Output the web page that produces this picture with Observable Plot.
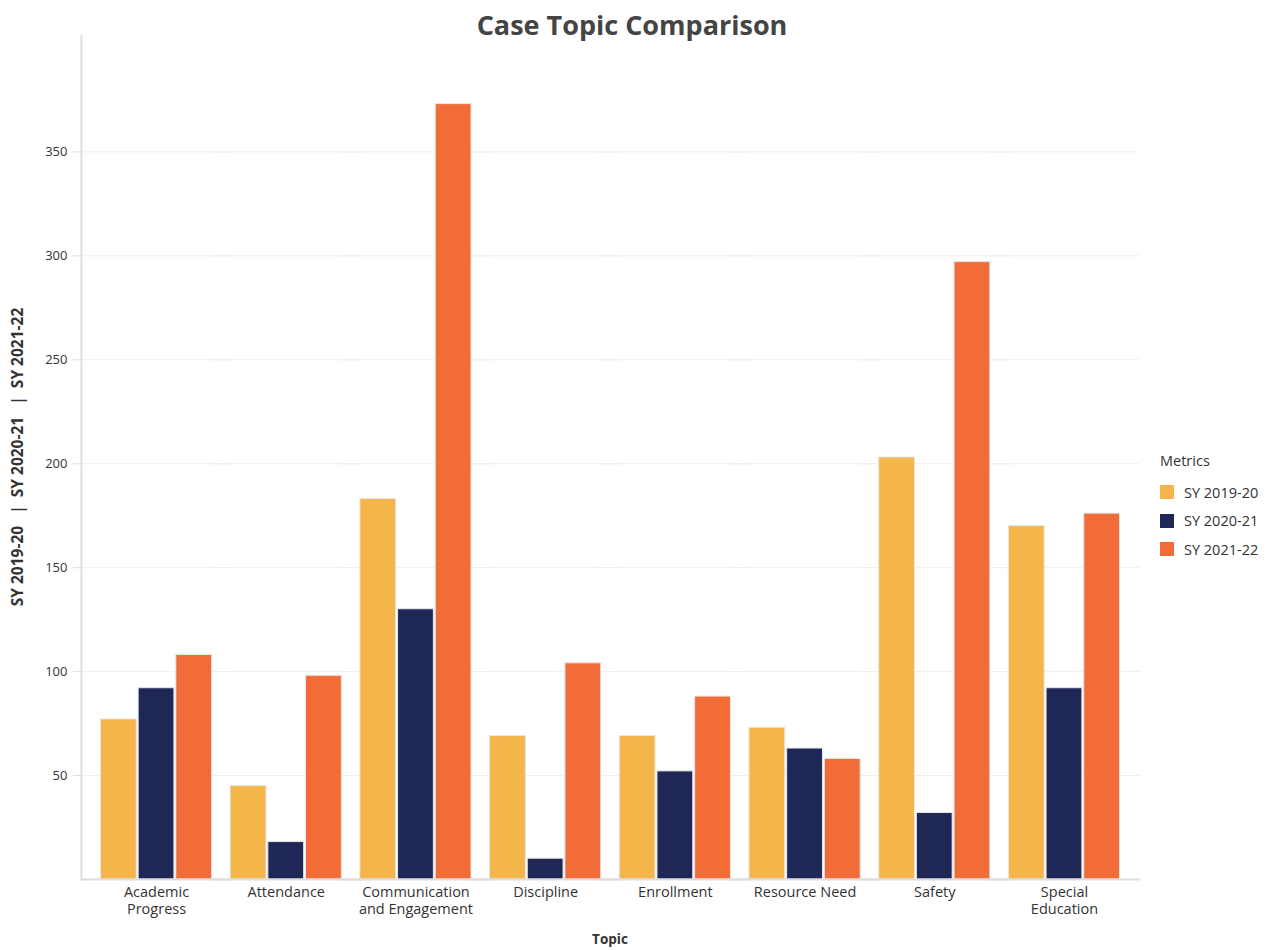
<!DOCTYPE html>
<html>
<head>
<meta charset="utf-8">
<script src="https://cdn.jsdelivr.net/npm/d3@7"></script>
<script src="https://cdn.jsdelivr.net/npm/@observablehq/plot@0.6"></script>
<style>
  html, body { margin: 0; padding: 0; background: #fff; }
  #wrap { position: relative; width: 1271px; height: 950px; font-family: "Open Sans", sans-serif; color: #333; }
  #title { position: absolute; top: 6px; left: 0; width: 1264px; text-align: center; font-size: 27px; font-weight: bold; color: #444; }
  #legend { position: absolute; left: 1160px; top: 450px; font-size: 14.5px; color: #333; }
  #legend .hd { height: 22px; line-height: 22px; margin-bottom: 6px; }
  #legend .it { display: flex; align-items: center; height: 28.5px; }
  #legend .sw { width: 14px; height: 14px; margin-right: 10px; }
  .axlabel { position: absolute; font-weight: bold; color: #333; white-space: pre; line-height: 1; }
  #ylabel { left: 18px; top: 457px; font-size: 15.5px; transform: translate(-50%, -50%) rotate(-90deg); }
  #xlabel { left: 610px; top: 940px; font-size: 13.5px; transform: translate(-50%, -50%); }
  g[aria-label="fx-axis tick label"] text { font-size: 14.5px; }
</style>
</head>
<body>
<div id="wrap">
  <div id="chart"></div>
  <div id="title"></div>
  <div id="ylabel" class="axlabel"></div>
  <div id="xlabel" class="axlabel"></div>
  <div id="legend"></div>
</div>
<script>
const title = "Case Topic Comparison";
const xTitle = "Topic";
const yLabel = "SY 2019-20   |  SY 2020-21   |  SY 2021-22";
const legendTitle = "Metrics";
const topics = ["Academic Progress", "Attendance", "Communication and Engagement", "Discipline", "Enrollment", "Resource Need", "Safety", "Special Education"];
const topicLabels = ["Academic\nProgress", "Attendance", "Communication\nand Engagement", "Discipline", "Enrollment", "Resource Need", "Safety", "Special\nEducation"];
const metrics = ["SY 2019-20", "SY 2020-21", "SY 2021-22"];
const sy201920 = [77, 45, 183, 69, 69, 73, 203, 170];
const sy202021 = [92, 18, 130, 10, 52, 63, 32, 92];
const sy202122 = [108, 98, 373, 104, 88, 58, 297, 176];
const colors = ["#F4B54B", "#1F2757", "#F26C38"];
const yTicks = [50, 100, 150, 200, 250, 300, 350];

const series = [sy201920, sy202021, sy202122];
const data = topics.flatMap((t, i) => metrics.map((m, j) => ({topic: t, metric: m, value: series[j][i]})));

const chart = Plot.plot({
  width: 1271, height: 950,
  marginLeft: 81, marginRight: 132, marginTop: 35, marginBottom: 71,
  style: {fontFamily: "'Open Sans', sans-serif", fontSize: "13px", color: "#333", background: "white"},
  fx: {domain: topics, paddingInner: 0.143, paddingOuter: 0.15, round: false, label: null},
  x: {domain: metrics, axis: null, paddingInner: 0.05, paddingOuter: 0, round: false},
  y: {domain: [0, 406], axis: null},
  color: {domain: metrics, range: colors},
  marks: [
    Plot.ruleY(yTicks, {stroke: "#efefef", strokeWidth: 1, insetLeft: -20, insetRight: -20}),
    Plot.barY(data, {fx: "topic", x: "metric", y: "value", fill: "metric", stroke: "#e6e6e6", strokeWidth: 1}),
    Plot.ruleY([0], {stroke: "#dddddd", strokeWidth: 2, insetLeft: -20, insetRight: -20}),
    Plot.frame({anchor: "left", facetAnchor: "left", dx: -19.5, stroke: "#dddddd", strokeWidth: 2}),
    Plot.axisY({ticks: yTicks, tickSize: 8, tickPadding: 6, dx: -19.5, stroke: "#dddddd", fill: "#333", label: null}),
    Plot.axisFx({anchor: "bottom", tickSize: 0, tickPadding: 6, fill: "#333", lineHeight: 1.16,
      tickFormat: t => topicLabels[topics.indexOf(t)], label: null})
  ]
});
document.getElementById("chart").appendChild(chart);
document.getElementById("title").textContent = title;
document.getElementById("ylabel").textContent = yLabel;
document.getElementById("xlabel").textContent = xTitle;

const legend = document.getElementById("legend");
const hd = document.createElement("div"); hd.className = "hd"; hd.textContent = legendTitle; legend.appendChild(hd);
metrics.forEach((m, i) => {
  const it = document.createElement("div"); it.className = "it";
  const sw = document.createElement("div"); sw.className = "sw"; sw.style.background = colors[i];
  const tx = document.createElement("span"); tx.textContent = m;
  it.appendChild(sw); it.appendChild(tx); legend.appendChild(it);
});
</script>
</body>
</html>
